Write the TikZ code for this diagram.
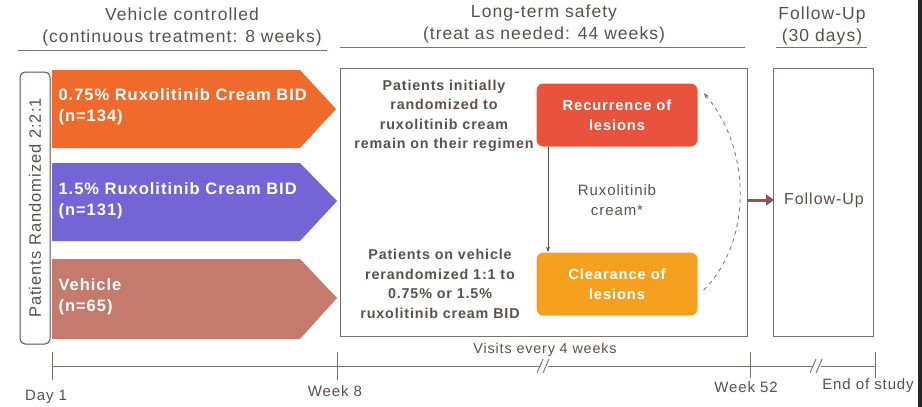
\documentclass[tikz,border=0pt]{standalone}
\usepackage{fontspec}
\setmainfont[LetterSpace=6]{Liberation Sans}
\usetikzlibrary{arrows.meta}
\definecolor{txt}{HTML}{5A5050}
\definecolor{rule}{HTML}{7A7070}
\definecolor{armA}{HTML}{F06A2C}
\definecolor{armB}{HTML}{7464D6}
\definecolor{armC}{HTML}{C47A6C}
\definecolor{recur}{HTML}{E9523C}
\definecolor{clear}{HTML}{F5A01E}
\definecolor{fwd}{HTML}{8A5A58}
\tikzset{
  head/.style={font=\fontsize{17.5}{22}\selectfont, text=txt, align=center},
  armlabel/.style={font=\bfseries\fontsize{16.5}{21}\selectfont, text=white, align=left, anchor=west},
  desc/.style={font=\bfseries\fontsize{14.3}{19.5}\selectfont, text=txt, align=center},
  lesion/.style={draw=none, rounded corners=7pt, minimum width=161, minimum height=63,
                 font=\bfseries\fontsize{14.7}{19.5}\selectfont, text=white, align=center},
  frame/.style={draw=rule, line width=1pt},
  tick/.style={font=\fontsize{15}{16}\selectfont, text=txt},
}
\begin{document}
\begin{tikzpicture}[x=1pt,y=-1pt]
\useasboundingbox[fill=white] (0,0) rectangle (922,407);
% dark edge along the right border
\fill[black!85] (918,0) rectangle (922,407);

% section headings
\node[head] (h1) at (182,27) {Vehicle controlled\\(continuous treatment: 8 weeks)};
\node[head] (h2) at (544,24) {Long-term safety\\(treat as needed: 44 weeks)};
\node[head] (h3) at (822,26) {Follow-Up\\(30 days)};
\draw[rule, line width=0.8pt] (18,50) -- (327,50);
\draw[rule, line width=0.8pt] (340,47) -- (745,47);
\draw[rule, line width=0.8pt] (776,47) -- (867,47);

% randomisation bracket
\node[draw=txt, line width=1pt, rounded corners=5pt, minimum width=272, minimum height=30,
      rotate=90, font=\fontsize{16.5}{18}\selectfont, text=txt] (rand) at (35,208)
      {Patients Randomized 2:2:1};

% treatment arms
\fill[armA] (52,70) -- (300,70) -- (336,109) -- (300,148) -- (52,148) -- cycle;
\node[armlabel] (armAtxt) at (55,107) {0.75\% Ruxolitinib Cream BID\\(n=134)};
\fill[armB] (52,163) -- (300,163) -- (337,201) -- (300,241) -- (52,241) -- cycle;
\node[armlabel] (armBtxt) at (55,201) {1.5\% Ruxolitinib Cream BID\\(n=131)};
\fill[armC] (52,259) -- (300,259) -- (337,298) -- (300,339) -- (52,339) -- cycle;
\node[armlabel] (armCtxt) at (55,297) {Vehicle\\(n=65)};

% long-term safety period
\draw[frame] (340,68) rectangle (747,336);
\node[desc] (keep) at (444,116) {Patients initially\\randomized to\\ruxolitinib cream\\remain on their regimen};
\node[desc] (rerand) at (440,284) {Patients on vehicle\\rerandomized 1:1 to\\0.75\% or 1.5\%\\ruxolitinib cream BID};
\node[lesion, fill=recur] (rec) at (617,115) {Recurrence of\\lesions};
\node[lesion, fill=clear] (clr) at (617,284) {Clearance of\\lesions};
\node[font=\fontsize{15}{19.5}\selectfont, text=txt, align=center] (rux) at (617,200) {Ruxolitinib\\cream*};
\draw[txt, line width=0.8pt, -{Stealth[length=6pt,width=4pt]}]
  ([xshift=-69pt]rec.south) -- ([xshift=-69pt]clr.north);
\draw[rule, line width=0.8pt, dashed, dash pattern=on 4pt off 4pt, -{Stealth[length=6pt,width=4pt]}]
  ([xshift=6pt,yshift=-6pt]clr.east) .. controls (752,242) and (752,150) .. ([xshift=6pt,yshift=22pt]rec.east);

% follow-up period
\draw[frame] (773,68) rectangle (873,336);
\node[font=\fontsize{16}{18}\selectfont, text=txt] (fu) at (824,200) {Follow-Up};
\coordinate (ltsR) at (747,200);
\coordinate (fuL) at (774,200);
\draw[fwd, line width=3pt, -{Triangle[length=8pt,width=11pt]}] (ltsR) -- (fuL);

% timeline
\coordinate (t0) at (52,366);
\coordinate (t3) at (875,366);
\draw[rule, line width=1pt] (t0) -- (t3);
\draw[rule, line width=1pt] (52,352) -- (52,380);
\draw[rule, line width=1pt] (337,352) -- (337,380);
\draw[rule, line width=1pt] (750,352) -- (750,378);
\draw[rule, line width=1pt] (875,352) -- (875,378);
% axis breaks
\fill[white] (540,362) rectangle (548,370);
\draw[rule, line width=0.9pt] (537,373) -- (543,359) (543,373) -- (549,359);
\fill[white] (813,362) rectangle (821,370);
\draw[rule, line width=0.9pt] (810,373) -- (816,359) (816,373) -- (822,359);
\node[font=\fontsize{14.3}{16}\selectfont, text=txt] (visits) at (545,350) {Visits every 4 weeks};
\node[tick] (d1) at (46,397) {Day 1};
\node[tick] (w8) at (335,391) {Week 8};
\node[tick] (w52) at (746,387) {Week 52};
\node[tick] (eos) at (868,386) {End of study};
\end{tikzpicture}
\end{document}
